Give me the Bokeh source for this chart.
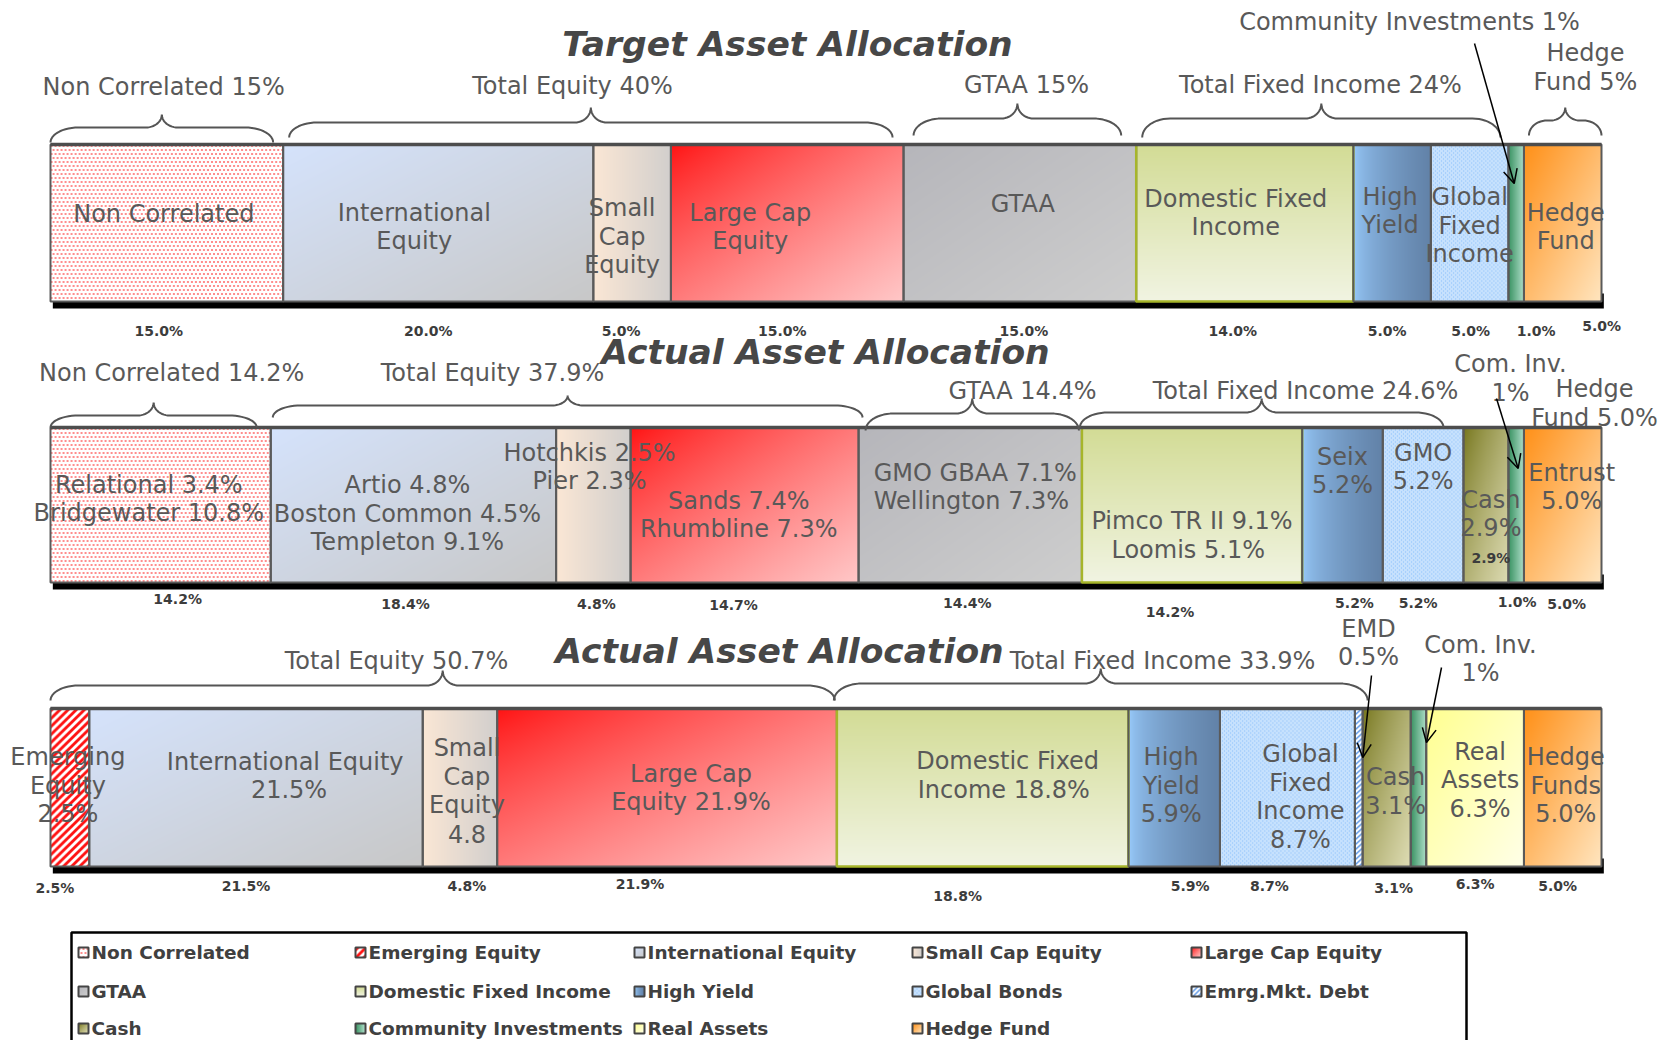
import numpy as np
from bokeh.plotting import figure
from bokeh.models import Range1d, Arrow, OpenHead, ColumnDataSource
from bokeh.embed import file_html
from bokeh.resources import INLINE
from bokeh.core.properties import value

# ---------------- DATA ----------------
target_cats = ["Non Correlated", "International Equity", "Small Cap Equity", "Large Cap Equity",
               "GTAA", "Domestic Fixed Income", "High Yield", "Global Fixed Income",
               "Community Investments", "Hedge Fund"]
target_vals = [15.0, 20.0, 5.0, 15.0, 15.0, 14.0, 5.0, 5.0, 1.0, 5.0]
target_text = ["Non Correlated", "International\nEquity", "Small\nCap\nEquity", "Large Cap\nEquity",
               "GTAA", "Domestic Fixed\nIncome", "High\nYield", "Global\nFixed\nIncome", "", "Hedge\nFund"]
target_below = ["15.0%", "20.0%", "5.0%", "15.0%", "15.0%", "14.0%", "5.0%", "5.0%", "1.0%", "5.0%"]
target_groups = [("Non Correlated  15%", 0, 1), ("Total Equity 40%", 1, 4), ("GTAA 15%", 4, 5),
                 ("Total Fixed Income 24%", 5, 8), ("Hedge\nFund 5%", 9, 10)]

actual1_cats = ["Non Correlated", "International Equity", "Small Cap Equity", "Large Cap Equity",
                "GTAA", "Domestic Fixed Income", "High Yield", "Global Fixed Income", "Cash",
                "Community Investments", "Hedge Fund"]
actual1_vals = [14.2, 18.4, 4.8, 14.7, 14.4, 14.2, 5.2, 5.2, 2.9, 1.0, 5.0]
actual1_text = ["Relational  3.4%\nBridgewater  10.8%", "Artio 4.8%\nBoston Common 4.5%\nTempleton 9.1%",
                "Hotchkis  2.5%\nPier  2.3%", "Sands  7.4%\nRhumbline  7.3%",
                "GMO GBAA 7.1%\nWellington  7.3%", "Pimco TR II 9.1%\nLoomis  5.1%", "Seix\n5.2%",
                "GMO\n5.2%", "Cash\n2.9%", "", "Entrust\n5.0%"]
actual1_below = ["14.2%", "18.4%", "4.8%", "14.7%", "14.4%", "14.2%", "5.2%", "5.2%", "2.9%", "1.0%", "5.0%"]
actual1_groups = [("Non Correlated  14.2%", 0, 1), ("Total Equity 37.9%", 1, 4),
                  ("GTAA 14.4%", 4, 5), ("Total Fixed Income 24.6%", 5, 8)]

actual2_cats = ["Emerging Equity", "International Equity", "Small Cap Equity", "Large Cap Equity",
                "Domestic Fixed Income", "High Yield", "Global Fixed Income", "Emrg.Mkt. Debt", "Cash",
                "Community Investments", "Real Assets", "Hedge Fund"]
actual2_vals = [2.5, 21.5, 4.8, 21.9, 18.8, 5.9, 8.7, 0.5, 3.1, 1.0, 6.3, 5.0]
actual2_text = ["Emerging\nEquity\n2.5%", "International  Equity\n21.5%", "Small\nCap\nEquity\n4.8",
                "Large Cap\nEquity 21.9%", "Domestic Fixed\nIncome  18.8%", "High\nYield\n5.9%",
                "Global\nFixed\nIncome\n8.7%", "", "Cash\n3.1%", "", "Real\nAssets\n6.3%", "Hedge\nFunds\n5.0%"]
actual2_below = ["2.5%", "21.5%", "4.8%", "21.9%", "18.8%", "5.9%", "8.7%", "", "3.1%", "", "6.3%", "5.0%"]
actual2_groups = [("Total Equity 50.7%", 0, 4), ("Total Fixed Income 33.9%", 4, 8)]

titles = ["Target Asset Allocation", "Actual Asset Allocation", "Actual Asset Allocation"]

legend_names = ["Non Correlated", "Emerging Equity", "International Equity", "Small Cap Equity",
                "Large Cap Equity", "GTAA", "Domestic Fixed Income", "High Yield", "Global Bonds",
                "Emrg.Mkt. Debt", "Cash", "Community Investments", "Real Assets", "Hedge Fund"]
legend_keys = ["Non Correlated", "Emerging Equity", "International Equity", "Small Cap Equity",
               "Large Cap Equity", "GTAA", "Domestic Fixed Income", "High Yield", "Global Fixed Income",
               "Emrg.Mkt. Debt", "Cash", "Community Investments", "Real Assets", "Hedge Fund"]

# ---------------- STYLE ----------------
FILLS = {
    "Non Correlated": ("dots",),
    "Emerging Equity": ("stripes", (255, 20, 20), 8, 4),
    "International Equity": ("grad", "d", (213, 227, 252), (200, 200, 200), 1.0),
    "Small Cap Equity": ("grad", "h", (251, 231, 213), (210, 207, 205), 1.0),
    "Large Cap Equity": ("grad", "d", (255, 18, 18), (255, 200, 200), 0.8),
    "GTAA": ("grad", "d", (182, 182, 187), (206, 206, 206), 1.0),
    "Domestic Fixed Income": ("grad", "v", (211, 220, 150), (241, 244, 226), 1.0),
    "High Yield": ("grad", "h", (155, 206, 255), (98, 130, 168), 0.55),
    "Global Fixed Income": ("net",),
    "Emrg.Mkt. Debt": ("stripes", (90, 150, 230), 5, 2),
    "Cash": ("grad", "d", (118, 118, 28), (222, 220, 180), 0.8),
    "Community Investments": ("grad", "h", (62, 150, 102), (178, 224, 204), 1.0),
    "Real Assets": ("grad", "d", (255, 255, 145), (255, 255, 232), 1.0),
    "Hedge Fund": ("grad", "d", (255, 145, 25), (255, 230, 192), 1.0),
}
BORDER = {"Domestic Fixed Income": "#a6b52a"}

W, H = 1660, 1040
X0_PX, PX_PER_PCT = 50.0, 15.51


def px(sx):
    return (sx - X0_PX) / PX_PER_PCT


def Y(sy):
    return -sy


def make_fill(kind, w, h):
    w = max(int(round(w)), 2)
    h = max(int(round(h)), 2)
    yy, xx = np.mgrid[0:h, 0:w]
    rgb = np.zeros((h, w, 3), dtype=float)
    k = kind[0]
    if k == "grad":
        _, d, c1, c2, g = kind
        fx = xx / (w - 1)
        fy = yy / (h - 1)
        t = fx if d == "h" else (fy if d == "v" else (fx + fy) / 2)
        t = t ** g
        c1 = np.array(c1, float)
        c2 = np.array(c2, float)
        rgb = c1 + (c2 - c1) * t[..., None]
    elif k == "dots":
        rgb[:] = 255
        mask = (yy % 4 == 1) & (((xx + 2 * ((yy // 4) % 2)) % 4) <= 1)
        rgb[mask] = (255, 30, 30)
    elif k == "stripes":
        rgb[:] = 255
        mask = ((xx + yy) % kind[2]) < kind[3]
        rgb[mask] = kind[1]
    elif k == "net":
        rgb[:] = (168, 208, 252)
        mask = ((xx + yy) % 4 == 0) | ((xx - yy) % 4 == 0)
        rgb[mask] = (228, 242, 255)
    rgb = np.flipud(np.clip(rgb, 0, 255).astype(np.uint8))
    img = np.empty((h, w), dtype=np.uint32)
    view = img.view(dtype=np.uint8).reshape((h, w, 4))
    view[..., :3] = rgb
    view[..., 3] = 255
    return img


p = figure(width=W, height=H, x_range=Range1d(px(0), px(W)), y_range=Range1d(-H, 0),
           output_backend="svg", toolbar_location=None, min_border=0,
           x_axis_location=None, y_axis_location=None)
p.grid.visible = False
p.outline_line_color = None
p.background_fill_color = "white"
p.border_fill_color = "white"

FONT = value("DejaVu Sans")
inner = dict(x=[], y=[], text=[])
below = dict(x=[], y=[], text=[])

sections = [
    dict(cats=target_cats, vals=target_vals, text=target_text, below=target_below, top=144, bottom=301,
         below_y=330, lh=28.5,
         text_dx=[-3, -24, -10, -37, 3, -9, -2, 0, 0, 3],
         text_y=[213, 226.5, 236, 226.5, 203, 212.5, 210.5, 225, 0, 226.5],
         below_off=[(-8, 0), (-10, 0), (-11, 0), (-5, 0), (4, 0), (-12, 0), (-5, 0), (1, 0), (20, 0), (39, -5)]),
    dict(cats=actual1_cats, vals=actual1_vals, text=actual1_text, below=actual1_below, top=427, bottom=582,
         below_y=603, lh=28.5,
         text_dx=[-8, -6, 0, -2, 5, 0, 0, 0, 5, 0, 9],
         text_y=[498.5, 513, 466.5, 514.5, 486.5, 535, 470.5, 466.5, 513.5, 0, 486.5],
         below_off=[(17, -5), (-8, 0), (3, 0), (-11, 1), (-3, -1), (-22, 8), (12, -1), (-5, -1), (5, -46),
                    (1, -2), (4, 0)]),
    dict(cats=actual2_cats, vals=actual2_vals, text=actual2_text, below=actual2_below, top=708, bottom=866,
         below_y=885, lh=28.5,
         text_dx=[-2, 33, 7, 24, 25, -3, 13, 0, 9, 0, 5, 3],
         text_y=[785, 775.5, 790.5, 787.5, 775, 785, 796.5, 0, 791, 0, 779.5, 785],
         below_off=[(-15, 2), (-10, 0), (7, 0), (-27, -2), (-25, 10), (16, 0), (-18, 0), (0, 0), (7, 2),
                    (0, 0), (0, -2), (-5, 0)]),
]

for s in sections:
    vals = np.array(s["vals"], float)
    starts = np.concatenate([[0.0], np.cumsum(vals)[:-1]])
    ends = starts + vals
    s["starts"], s["ends"] = starts, ends
    top, bot = s["top"], s["bottom"]
    # shadow
    p.quad(left=[starts[0] + 0.15], right=[ends[-1] + 0.15], top=[Y(bot - 8)], bottom=[Y(bot + 7)],
           fill_color="black", line_color=None)
    for cat, st, v in zip(s["cats"], starts, vals):
        img = make_fill(FILLS[cat], v * PX_PER_PCT, bot - top)
        p.image_rgba(image=[img], x=st, y=Y(bot), dw=v, dh=bot - top)
    for cat, st, en in zip(s["cats"], starts, ends):
        p.quad(left=[st], right=[en], top=[Y(top)], bottom=[Y(bot)], fill_alpha=0,
               line_color=BORDER.get(cat, "#5a5a5a"), line_width=2 if cat not in BORDER else 2.5)
    p.segment(x0=[starts[0]], x1=[ends[-1]], y0=[Y(top)], y1=[Y(top)], line_color="#4d4d4d", line_width=3.5)
    for st, v, lab, dx, yc in zip(starts, vals, s["text"], s["text_dx"], s["text_y"]):
        if not lab:
            continue
        lines = lab.split("\n")
        n = len(lines)
        for i, ln in enumerate(lines):
            inner["x"].append(st + v / 2 + dx / PX_PER_PCT)
            inner["y"].append(Y(yc + (i - (n - 1) / 2) * s["lh"]))
            inner["text"].append(ln)
    for st, v, lab, (dx, dy) in zip(starts, vals, s["below"], s["below_off"]):
        if not lab:
            continue
        below["x"].append(st + v / 2 + dx / PX_PER_PCT)
        below["y"].append(Y(s["below_y"] + dy))
        below["text"].append(lab)


# ---------------- braces ----------------
def brace(x0, x1, yb, ym, yt):
    half = (x1 - x0) / 2
    xc = (x0 + x1) / 2
    rx = min(28, half * 0.5)
    rxp = min(16, half * 0.4)
    ry, ryp = yb - ym, ym - yt
    t = np.linspace(0, np.pi / 2, 14)
    tr = t[::-1]
    xs = np.concatenate([x0 + rx - rx * np.cos(t), xc - rxp + rxp * np.sin(t),
                         xc + rxp - rxp * np.sin(tr), x1 - rx + rx * np.cos(tr)])
    ys = np.concatenate([yb - ry * np.sin(t), yt + ryp * np.cos(t),
                         yt + ryp * np.cos(tr), yb - ry * np.sin(tr)])
    return [px(v) for v in xs], [Y(v) for v in ys]


brace_layout = [
    (target_groups, sections[0], [(0, 10, 142, 127, 114), (6, 11, 137, 122, 107), (10, 15, 135, 118, 103),
                                  (6, 8, 137, 118, 103), (5, 0, 135, 120, 107)],
     [(167, 86), (572, 85), (1026, 84), (1320, 84), (1585, 67)]),
    (actual1_groups, sections[1], [(0, 14, 427, 415, 402), (2, -4, 417, 405, 395), (7, 3, 430, 413, 398),
                                   (-2, 20, 427, 412, 398)],
     [(175, 372), (492, 372), (1022, 390), (1305, 390)]),
    (actual2_groups, sections[2], [(0, 2, 700, 685, 670), (-3, -5, 700, 683, 668)],
     [(396, 660), (1162, 660)]),
]

glab = dict(x=[], y=[], text=[])


def add_label(lines, cx, cy, lh=28.5):
    n = len(lines)
    for i, ln in enumerate(lines):
        glab["x"].append(px(cx))
        glab["y"].append(Y(cy + (i - (n - 1) / 2) * lh))
        glab["text"].append(ln)


for groups, sec, geo, lpos in brace_layout:
    for (lab, i0, i1), (il, ir, yb, ym, yt), (lx, ly) in zip(groups, geo, lpos):
        x0 = X0_PX + sec["starts"][i0] * PX_PER_PCT + il
        x1 = X0_PX + sec["ends"][i1 - 1] * PX_PER_PCT - ir
        bx, by = brace(x0, x1, yb, ym, yt)
        p.line(bx, by, line_color="#555555", line_width=2)
        add_label(lab.split("\n"), lx, ly)

# call-outs with arrows
add_label(["Community Investments 1%"], 1409, 21)
add_label(["Com. Inv.", "1%"], 1510, 378)
add_label(["Hedge", "Fund 5.0%"], 1594, 403)
add_label(["EMD", "0.5%"], 1368, 642.5)
add_label(["Com. Inv.", "1%"], 1480, 658.5)

arrows = [
    (1474, 43, sections[0], 8, -2, 183),
    (1496, 398, sections[1], 9, 2, 468),
    (1371, 675, sections[2], 7, 4, 757),
    (1441, 667, sections[2], 9, 8, 742),
]
for sx, sy, sec, idx, dx, ey in arrows:
    xe = (sec["starts"][idx] + sec["ends"][idx]) / 2 + dx / PX_PER_PCT
    p.add_layout(Arrow(end=OpenHead(size=14, line_color="black", line_width=1.5),
                       x_start=px(sx), y_start=Y(sy), x_end=xe, y_end=Y(ey),
                       line_color="black", line_width=1.5))

# titles
tpos = [(787, 43), (825, 351), (779, 650)]
p.text(x=[px(x) for x, _ in tpos], y=[Y(y) for _, y in tpos], text=titles, text_font=FONT,
       text_font_size="34.5px", text_font_style="bold italic", text_color="#474747",
       text_align="center", text_baseline="middle")

p.text(x="x", y="y", text="text", source=ColumnDataSource(inner), text_font=FONT,
       text_font_size="24px", text_color="#595959", text_align="center", text_baseline="middle")
p.text(x="x", y="y", text="text", source=ColumnDataSource(glab), text_font=FONT,
       text_font_size="24px", text_color="#595959", text_align="center", text_baseline="middle")
p.text(x="x", y="y", text="text", source=ColumnDataSource(below), text_font=FONT,
       text_font_size="14px", text_font_style="bold", text_color="#3c3c3c",
       text_align="center", text_baseline="middle")

# ---------------- legend ----------------
p.quad(left=[px(71)], right=[px(1466)], top=[Y(932)], bottom=[Y(1070)], fill_alpha=0,
       line_color="black", line_width=2.5)
col_x = [83, 360, 639, 917, 1196]
row_y = [952, 991, 1028]
lg = dict(x=[], y=[], text=[])
for i, (name, key) in enumerate(zip(legend_names, legend_keys)):
    cx, cy = col_x[i % 5], row_y[i // 5]
    img = make_fill(FILLS[key], 10, 10)
    p.image_rgba(image=[img], x=px(cx - 5), y=Y(cy + 5), dw=10 / PX_PER_PCT, dh=10)
    p.quad(left=[px(cx - 5)], right=[px(cx + 5)], top=[Y(cy - 5)], bottom=[Y(cy + 5)], fill_alpha=0,
           line_color="#454545", line_width=2)
    lg["x"].append(px(cx + 8))
    lg["y"].append(Y(cy))
    lg["text"].append(name)
p.text(x="x", y="y", text="text", source=ColumnDataSource(lg), text_font=FONT, text_font_size="18.5px",
       text_font_style="bold", text_color="#404040", text_align="left", text_baseline="middle")

open("out.html", "w").write(file_html(p, INLINE))
